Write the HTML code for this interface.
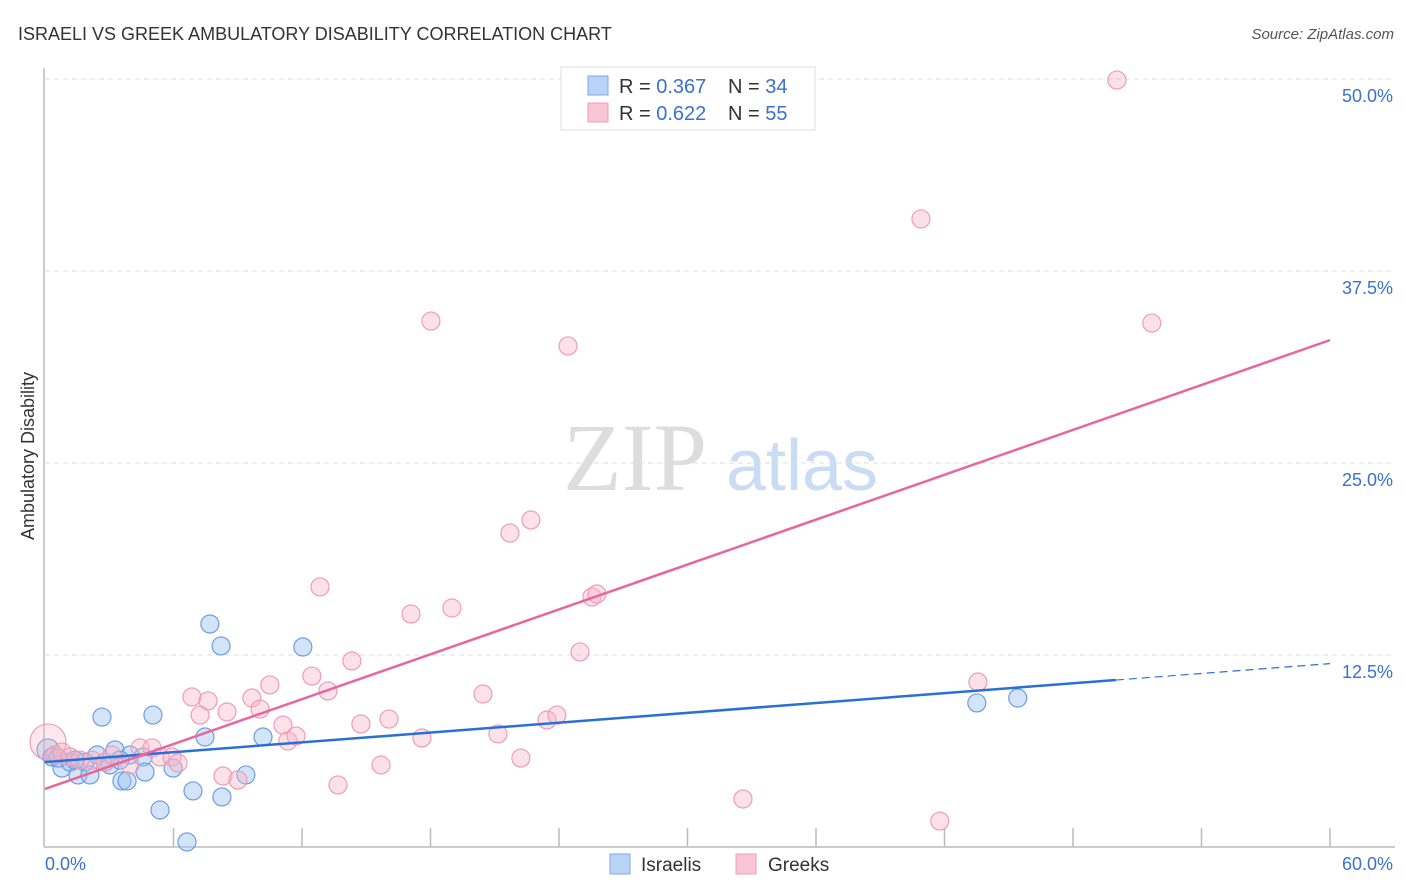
<!DOCTYPE html>
<html><head><meta charset="utf-8"><style>
body{margin:0;background:#fff;font-family:"Liberation Sans",sans-serif;}
svg{display:block}
</style></head><body>
<svg width="1406" height="892" xmlns="http://www.w3.org/2000/svg">
<text x="18" y="40" font-size="18" fill="#333">ISRAELI VS GREEK AMBULATORY DISABILITY CORRELATION CHART</text>
<text x="1394" y="39" font-size="15" fill="#555" text-anchor="end" font-style="italic">Source: ZipAtlas.com</text>
<g>
<text x="635" y="490" font-size="96" fill="#ddd" font-family="Liberation Serif,serif" text-anchor="middle">ZIP</text>
<text x="802" y="490" font-size="72" fill="#c9dcf3" text-anchor="middle">atlas</text>
</g>
<g id="grid"></g>
<g id="axes"></g>
<g id="pts"></g>
<g id="lines"></g>
<text transform="translate(34,456) rotate(-90)" font-size="18" fill="#333" text-anchor="middle">Ambulatory Disability</text>
<g>
<rect x="561" y="67" width="254" height="63" fill="#fff" stroke="#ddd"/>
<rect x="588" y="76" width="20" height="19" fill="#b9d3f5" stroke="#7aa8e6"/>
<rect x="588" y="103" width="20" height="19" fill="#f9c6d5" stroke="#ef9cb6"/>
<text x="619" y="93" font-size="20" fill="#333">R = <tspan fill="#3a70d1">0.367</tspan></text>
<text x="728" y="93" font-size="20" fill="#333">N = <tspan fill="#3a70d1">34</tspan></text>
<text x="619" y="120" font-size="20" fill="#333">R = <tspan fill="#3a70d1">0.622</tspan></text>
<text x="728" y="120" font-size="20" fill="#333">N = <tspan fill="#3a70d1">55</tspan></text>
</g>
<g>
<rect x="610" y="854" width="20" height="20" fill="#b9d3f5" stroke="#7aa8e6"/>
<text x="641" y="871" font-size="19" fill="#333">Israelis</text>
<rect x="736" y="854" width="20" height="20" fill="#f9c6d5" stroke="#ef9cb6"/>
<text x="768" y="871" font-size="19" fill="#333">Greeks</text>
</g>
</svg>
<script>
const yTicks=[12.5,25,37.5,50];
const yTickLabels=["12.5%","25.0%","37.5%","50.0%"];
const xTickCount=10;
const blueX=[0.14,0.33,0.79,1.17,1.54,1.87,2.10,2.43,2.66,3.03,3.27,3.59,3.83,3.97,4.58,4.67,5.04,5.37,5.98,6.63,6.91,7.47,7.70,8.22,8.26,9.38,10.18,12.04,43.51,45.42,0.61,2.80,1.40,3.50];
const blueY=[6.32,5.86,5.14,5.53,4.69,5.53,4.69,5.99,8.46,5.34,6.32,4.30,4.30,5.99,5.86,4.88,8.59,2.41,5.14,0.33,3.65,7.16,14.52,13.09,3.26,4.69,7.16,13.02,9.38,9.70,5.79,5.53,5.66,5.66];
const pinkX=[0.14,0.47,0.79,1.17,1.63,2.19,2.80,3.13,3.97,4.44,5.00,5.37,5.93,6.21,6.86,7.24,7.61,8.31,8.50,9.01,9.66,10.04,10.50,11.11,11.34,11.72,12.46,12.84,13.21,13.68,14.33,14.75,15.69,16.06,17.09,17.60,18.02,19.00,20.45,21.15,21.71,22.22,22.69,23.44,23.90,24.42,24.98,25.54,25.77,32.59,40.90,41.78,43.56,50.05,51.68];
const pinkY=[6.84,5.99,6.18,5.86,5.66,5.66,5.53,5.99,5.34,6.45,6.45,5.86,5.86,5.47,9.77,8.59,9.51,4.62,8.79,4.36,9.70,8.98,10.55,7.94,6.90,7.23,11.13,16.93,10.16,4.04,12.11,8.01,5.34,8.33,15.17,7.10,34.24,15.56,9.96,7.36,20.44,5.79,21.29,8.27,8.59,32.62,12.70,16.28,16.47,3.13,40.89,1.69,10.74,49.93,34.11];
const blueTrend=[5.53,10.87];
const pinkTrend=[3.78,33.0];
const X=v=>45+v*(1285/60), Y=v=>847-v*15.36;
const NS="http://www.w3.org/2000/svg";
function mk(tag,attrs,parent){const e=document.createElementNS(NS,tag);for(const k in attrs)e.setAttribute(k,attrs[k]);parent.appendChild(e);return e;}
const grid=document.getElementById('grid'),axes=document.getElementById('axes'),pts=document.getElementById('pts'),lines=document.getElementById('lines');
yTicks.forEach((t,i)=>{
 const l=mk('line',{x1:45,x2:1395,y1:Y(t),y2:Y(t),stroke:'#ddd','stroke-dasharray':'5,4'},grid);
 
 
 const tx=mk('text',{x:1393,y:Y(t)+23,'font-size':18,fill:'#3a70d1','text-anchor':'end'},axes);
 tx.textContent=yTickLabels[i];
 
 
});
mk('line',{x1:44,x2:44,y1:68,y2:847,stroke:'#bbb','stroke-width':1.5},axes);
mk('line',{x1:44,x2:1395,y1:847,y2:847,stroke:'#bbb','stroke-width':1.5},axes);
for(let i=1;i<=xTickCount;i++){const x=X(i*6);const t=mk('line',{x1:x,x2:x,y1:828,y2:847,stroke:'#bbb','stroke-width':1.5},axes);
 
 }
const x0=mk('text',{x:45,y:870,'font-size':18,fill:'#3a70d1'},axes);x0.textContent='0.0%';


const x1=mk('text',{x:1393,y:870,'font-size':18,fill:'#3a70d1','text-anchor':'end'},axes);x1.textContent='60.0%';


blueX.forEach((v,i)=>{const c=mk('circle',{cx:X(v),cy:Y(blueY[i]),r:i==0?11:9,fill:'rgba(160,195,240,0.45)',stroke:'#6a9ee0','stroke-width':1.2},pts);
 
 });
pinkX.forEach((v,i)=>{const c=mk('circle',{cx:X(v),cy:Y(pinkY[i]),r:i==0?18:9,fill:i==0?'rgba(247,180,200,0.3)':'rgba(247,180,200,0.4)',stroke:'#ef9cb6','stroke-width':1.2},pts);
 
 });
const bAt=x=>blueTrend[0]+(blueTrend[1]-blueTrend[0])*x/50;
const bl=mk('line',{x1:X(0),y1:Y(bAt(0)),x2:X(50),y2:Y(bAt(50)),stroke:'#2a6fd6','stroke-width':2.5},lines);


const bd=mk('line',{x1:X(50),y1:Y(bAt(50)),x2:X(60),y2:Y(bAt(60)),stroke:'#2a6fd6','stroke-width':1.2,'stroke-dasharray':'8,5'},lines);


const pl=mk('line',{x1:X(0),y1:Y(pinkTrend[0]),x2:X(60),y2:Y(pinkTrend[1]),stroke:'#e8669a','stroke-width':2.5},lines);


</script>
</body></html>
